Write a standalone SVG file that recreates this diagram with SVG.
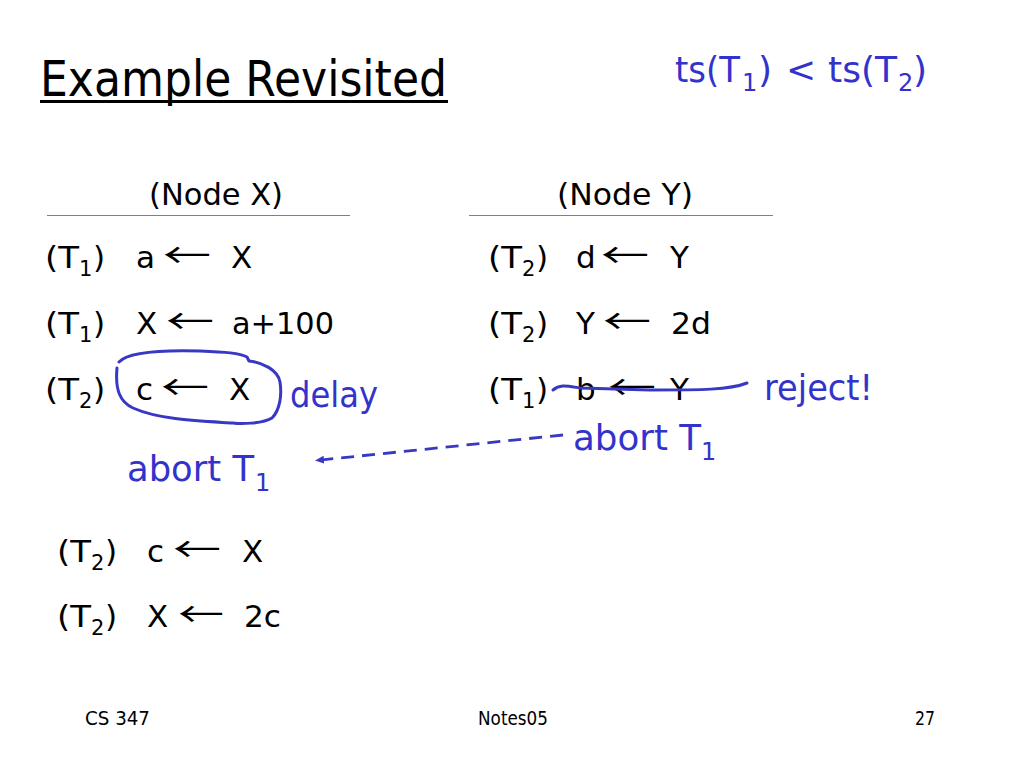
<svg xmlns="http://www.w3.org/2000/svg" width="1024" height="768" viewBox="0 0 1024 768">
<style>
text{font-family:"DejaVu Sans","Noto Sans",sans-serif;}
.b{font-size:31px;fill:#000;}
.ar{font-family:"Noto Sans CJK JP","Noto Sans CJK SC","DejaVu Sans",sans-serif;font-size:34px;fill:#000;}
.s{font-size:21px;fill:#000;}
.bl{font-size:36px;fill:#3333CC;}
.bls{font-size:24px;fill:#3333CC;}
.ft{font-size:20px;fill:#000;}
.ink{fill:none;stroke:#3838C4;stroke-width:3;stroke-linecap:round;stroke-linejoin:round;}
</style>
<defs>
<marker id="ah" markerWidth="10" markerHeight="10" refX="8" refY="5" orient="auto" markerUnits="userSpaceOnUse">
<path d="M0,1 L9,5 L0,9 Z" fill="#3838C4"/>
</marker>
</defs>
<rect width="1024" height="768" fill="#fff"/>
<g id="title">
<text x="40" y="96" font-size="50" textLength="407" lengthAdjust="spacingAndGlyphs">Example Revisited</text>
<rect x="40" y="100" width="408" height="3" fill="#000"/>
</g>
<g id="ts-order">
<text class="bl" x="675" y="82" font-size="34" textLength="65" lengthAdjust="spacingAndGlyphs">ts(T</text>
<text class="bls" x="742" y="91" font-size="22">1</text>
<text class="bl" x="758" y="82" font-size="34">)</text>
<text class="bl" x="786" y="82" font-size="34">&lt;</text>
<text class="bl" x="828" y="82" font-size="34" textLength="69" lengthAdjust="spacingAndGlyphs">ts(T</text>
<text class="bls" x="898" y="91" font-size="22">2</text>
<text class="bl" x="913" y="82" font-size="34">)</text>
</g>
<g id="node-x-header">
<text class="b" x="149" y="205" textLength="134" lengthAdjust="spacingAndGlyphs">(Node X)</text>
<line x1="47" y1="215.5" x2="350" y2="215.5" stroke="#808080" stroke-width="1"/>
</g>
<g id="node-y-header">
<text class="b" x="557" y="205" textLength="136" lengthAdjust="spacingAndGlyphs">(Node Y)</text>
<line x1="469" y1="215.5" x2="773" y2="215.5" stroke="#808080" stroke-width="1"/>
</g>
<g id="x-row1">
<text class="b" x="45" y="268" textLength="34" lengthAdjust="spacingAndGlyphs">(T</text>
<text class="s" x="79" y="276">1</text>
<text class="b" x="93" y="268">)</text>
<text class="b" x="136" y="268">a</text>
<text class="ar" x="163" y="268" textLength="48" lengthAdjust="spacingAndGlyphs">←</text>
<text class="b" x="231" y="268">X</text>
</g>
<g id="x-row2">
<text class="b" x="45" y="334" textLength="34" lengthAdjust="spacingAndGlyphs">(T</text>
<text class="s" x="79" y="342">1</text>
<text class="b" x="93" y="334">)</text>
<text class="b" x="136" y="334">X</text>
<text class="ar" x="166" y="334" textLength="48" lengthAdjust="spacingAndGlyphs">←</text>
<text class="b" x="232" y="334" textLength="102" lengthAdjust="spacingAndGlyphs">a+100</text>
</g>
<g id="x-row3">
<text class="b" x="45" y="400" textLength="34" lengthAdjust="spacingAndGlyphs">(T</text>
<text class="s" x="79" y="408">2</text>
<text class="b" x="93" y="400">)</text>
<text class="b" x="136" y="400">c</text>
<text class="ar" x="161" y="400" textLength="48" lengthAdjust="spacingAndGlyphs">←</text>
<text class="b" x="229" y="400">X</text>
</g>
<g id="y-row1">
<text class="b" x="488" y="268" textLength="34" lengthAdjust="spacingAndGlyphs">(T</text>
<text class="s" x="522" y="276">2</text>
<text class="b" x="536" y="268">)</text>
<text class="b" x="576" y="268">d</text>
<text class="ar" x="601" y="268" textLength="48" lengthAdjust="spacingAndGlyphs">←</text>
<text class="b" x="670" y="268">Y</text>
</g>
<g id="y-row2">
<text class="b" x="488" y="334" textLength="34" lengthAdjust="spacingAndGlyphs">(T</text>
<text class="s" x="522" y="342">2</text>
<text class="b" x="536" y="334">)</text>
<text class="b" x="576" y="334">Y</text>
<text class="ar" x="603" y="334" textLength="48" lengthAdjust="spacingAndGlyphs">←</text>
<text class="b" x="671" y="334" textLength="40" lengthAdjust="spacingAndGlyphs">2d</text>
</g>
<g id="y-row3">
<text class="b" x="488" y="400" textLength="34" lengthAdjust="spacingAndGlyphs">(T</text>
<text class="s" x="522" y="408">1</text>
<text class="b" x="536" y="400">)</text>
<text class="b" x="576" y="400">b</text>
<text class="ar" x="608" y="400" textLength="48" lengthAdjust="spacingAndGlyphs">←</text>
<text class="b" x="670" y="400">Y</text>
</g>
<g id="after-row1">
<text class="b" x="57" y="562" textLength="34" lengthAdjust="spacingAndGlyphs">(T</text>
<text class="s" x="91" y="570">2</text>
<text class="b" x="105" y="562">)</text>
<text class="b" x="147" y="562">c</text>
<text class="ar" x="173" y="562" textLength="48" lengthAdjust="spacingAndGlyphs">←</text>
<text class="b" x="242" y="562">X</text>
</g>
<g id="after-row2">
<text class="b" x="57" y="627" textLength="34" lengthAdjust="spacingAndGlyphs">(T</text>
<text class="s" x="91" y="635">2</text>
<text class="b" x="105" y="627">)</text>
<text class="b" x="147" y="627">X</text>
<text class="ar" x="178" y="627" textLength="46" lengthAdjust="spacingAndGlyphs">←</text>
<text class="b" x="244" y="627" textLength="37" lengthAdjust="spacingAndGlyphs">2c</text>
</g>
<g id="annotations">
<path class="ink" d="M119,362 C128,352 165,350 200,351 C225,352 240,353 247,357 L249,361 C262,362 278,370 280,382 C282,395 280,410 272,418 C262,424 240,424 233,423 C200,421 160,420 133,408 C120,402 115,390 117,368"/>
<text class="bl" x="290" y="407" textLength="88" lengthAdjust="spacingAndGlyphs">delay</text>
<path class="ink" d="M553,390 C560,384 567,386 580,388 L650,390 C700,390 730,390 747,383"/>
<text class="bl" x="764" y="400" textLength="109" lengthAdjust="spacingAndGlyphs">reject!</text>
<text class="bl" x="573" y="450" textLength="128" lengthAdjust="spacingAndGlyphs">abort T</text>
<text class="bls" x="701" y="460">1</text>
<text class="bl" x="127" y="481" textLength="127" lengthAdjust="spacingAndGlyphs">abort T</text>
<text class="bls" x="255" y="491">1</text>
</g>
<g id="connectors">
<line x1="563" y1="435" x2="316" y2="460.5" stroke="#3838C4" stroke-width="2.8" stroke-dasharray="13 8" marker-end="url(#ah)"/>
</g>
<g id="footer">
<text class="ft" x="85" y="725" textLength="65" lengthAdjust="spacingAndGlyphs">CS 347</text>
<text class="ft" x="478" y="725" textLength="70" lengthAdjust="spacingAndGlyphs">Notes05</text>
<text class="ft" x="915" y="725" textLength="20" lengthAdjust="spacingAndGlyphs">27</text>
</g>
</svg>
